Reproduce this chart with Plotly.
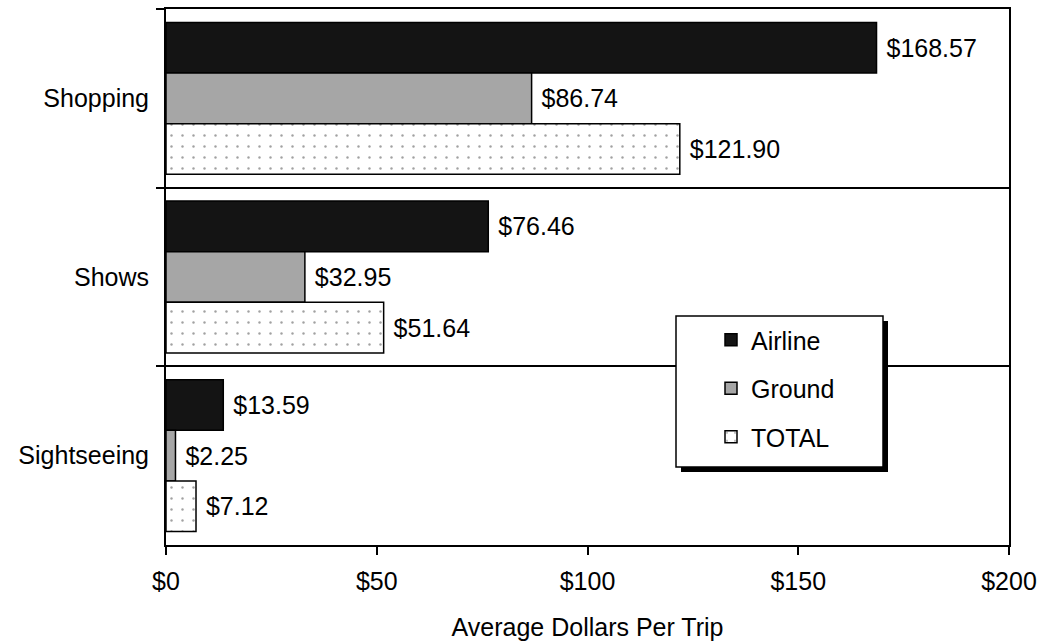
import plotly.graph_objects as go

categories = ["Shopping", "Shows", "Sightseeing"]
airline = [168.57, 76.46, 13.59]
ground = [86.74, 32.95, 2.25]
total = [121.90, 51.64, 7.12]
x_ticks = [0, 50, 100, 150, 200]

FONT = "Liberation Sans, Arial, sans-serif"
FS = 25

def lab(vals):
    return [" $%.2f" % v for v in vals]

fig = go.Figure()
fig.add_trace(go.Bar(
    y=categories, x=airline, orientation="h", name="Airline", legendgroup="a",
    marker=dict(color="#141414", line=dict(color="black", width=1.5)),
    text=lab(airline), textposition="outside", cliponaxis=False,
    textfont=dict(family=FONT, size=FS, color="black")))
fig.add_trace(go.Bar(
    y=categories, x=ground, orientation="h", name="Ground", legendgroup="g",
    marker=dict(color="#a6a6a6", line=dict(color="black", width=1.5)),
    text=lab(ground), textposition="outside", cliponaxis=False,
    textfont=dict(family=FONT, size=FS, color="black")))
fig.add_trace(go.Bar(
    y=categories, x=total, orientation="h", name="TOTAL", legendgroup="t",
    marker=dict(color="white", line=dict(color="black", width=1.5),
                pattern=dict(shape=".", fgcolor="#444444", bgcolor="white",
                             size=11, solidity=0.04)),
    text=lab(total), textposition="outside", cliponaxis=False,
    textfont=dict(family=FONT, size=FS, color="black")))

W, H = 1041, 641
L, R = 166, 1009
T, B = 9, 545

def px_x(p):
    return (p - L) / (R - L)

def px_y(p):
    return (B - p) / (B - T)

shapes = [
    dict(type="rect", xref="paper", yref="paper", layer="above",
         x0=px_x(681), x1=px_x(888), y0=px_y(321), y1=px_y(472),
         fillcolor="black", line=dict(width=0)),
    dict(type="rect", xref="paper", yref="paper", layer="above",
         x0=px_x(676), x1=px_x(883), y0=px_y(316), y1=px_y(467),
         fillcolor="white", line=dict(color="black", width=1.5)),
]

fig.update_layout(
    width=W, height=H,
    margin=dict(l=L, r=W - R, t=T, b=H - B, autoexpand=False),
    paper_bgcolor="white", plot_bgcolor="white",
    barmode="group", bargap=0.15, bargroupgap=0,
    font=dict(family=FONT, size=FS, color="black"),
    shapes=shapes,
    showlegend=True,
    legend=dict(x=px_x(711), y=px_y(317), xanchor="left", yanchor="top",
                bgcolor="rgba(0,0,0,0)", borderwidth=0,
                font=dict(family=FONT, size=FS, color="black"),
                tracegroupgap=13, traceorder="grouped", itemwidth=30),
    xaxis=dict(range=[0, 200], tickvals=x_ticks, ticktext=["$%d" % v for v in x_ticks],
               showline=True, linecolor="black", linewidth=2, mirror=True,
               ticks="outside", ticklen=8, tickwidth=2, tickcolor="black",
               showgrid=False, zeroline=False, ticklabelstandoff=5,
               title=dict(text="Average Dollars Per Trip", standoff=30,
                          font=dict(family=FONT, size=FS)),
               tickfont=dict(family=FONT, size=FS)),
    yaxis=dict(categoryorder="array", categoryarray=categories, autorange="reversed",
               showline=True, linecolor="black", linewidth=2, mirror=True,
               ticks="outside", ticklen=8, tickwidth=2, tickcolor="black",
               tickson="boundaries", showgrid=True, gridcolor="black", gridwidth=1.5,
               ticklabelstandoff=10,
               tickfont=dict(family=FONT, size=FS)),
)

fig.write_html("out.html", config={"displayModeBar": False},
               post_script="document.body.style.margin='0';document.body.style.overflow='hidden';")
